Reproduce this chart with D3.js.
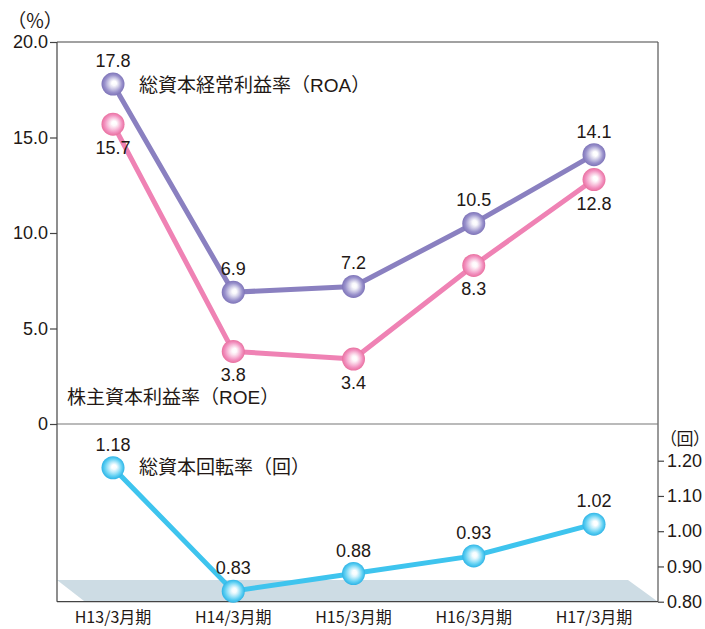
<!DOCTYPE html>
<html>
<head>
<meta charset="utf-8">
<script src="https://cdn.jsdelivr.net/npm/d3@7"></script>
<style>
  body { margin: 0; background: #fff; }
  text { font-family: "Liberation Sans", Arial, "Noto Sans CJK JP", sans-serif; fill: #231815; }
  .jp { font-family: "Noto Sans CJK JP", sans-serif; }
  .palt { font-feature-settings: "palt"; }
  .lat { font-family: "Liberation Sans", Arial, sans-serif; }
</style>
</head>
<body>
<svg id="chart" width="705" height="629"></svg>
<script>
// Data
const periods = ["H13/3月期", "H14/3月期", "H15/3月期", "H16/3月期", "H17/3月期"];
const roa = [17.8, 6.9, 7.2, 10.5, 14.1];
const roe = [15.7, 3.8, 3.4, 8.3, 12.8];
const turnover = [1.18, 0.83, 0.88, 0.93, 1.02];
const pctTicks = [0, 5, 10, 15, 20];
const turnTicks = [0.8, 0.9, 1.0, 1.1, 1.2];

const svg = d3.select("#chart");
const plotLeft = 57, plotRight = 658, plotTop = 42, zeroY = 424, plotBottom = 601.7;

const x = d3.scalePoint().domain(periods).range([113, 594]);
const yPct = d3.scaleLinear().domain([0, 20]).range([zeroY, plotTop]);
const yTurn = d3.scaleLinear().domain([0.8, 1.2]).range([plotBottom, 460.7]);

// gradients for the balls
const defs = svg.append("defs");
function ballGrad(id, mid, edge) {
    const g = defs.append("radialGradient").attr("id", id)
        .attr("cx", "50%").attr("cy", "50%").attr("r", "50%")
        .attr("fx", "56%").attr("fy", "46%");
    g.append("stop").attr("offset", "0%").attr("stop-color", "#ffffff");
    g.append("stop").attr("offset", "20%").attr("stop-color", "#ffffff").attr("stop-opacity", 0.95);
    g.append("stop").attr("offset", "75%").attr("stop-color", mid);
    g.append("stop").attr("offset", "100%").attr("stop-color", edge);
}
ballGrad("gRoa", "#9a92cc", "#7e74b8");
ballGrad("gRoe", "#f292c0", "#e9709f");
ballGrad("gTurn", "#5fd0f3", "#2fb4e6");

// gray band at the bottom
svg.append("path")
    .attr("d", `M${plotLeft},580 L628,580 L${plotRight},${plotBottom} L85,${plotBottom} Z`)
    .attr("fill", "#cddce4");

// frame
svg.append("line").attr("x1", plotLeft).attr("x2", plotRight).attr("y1", plotTop).attr("y2", plotTop)
    .attr("stroke", "#444").attr("stroke-width", 1.2);
svg.append("line").attr("x1", plotRight).attr("x2", plotRight).attr("y1", plotTop).attr("y2", plotBottom)
    .attr("stroke", "#555").attr("stroke-width", 1.2);
svg.append("line").attr("x1", plotLeft).attr("x2", plotRight).attr("y1", zeroY).attr("y2", zeroY)
    .attr("stroke", "#777").attr("stroke-width", 1.2);
svg.append("line").attr("x1", plotLeft).attr("x2", plotRight).attr("y1", plotBottom).attr("y2", plotBottom)
    .attr("stroke", "#444").attr("stroke-width", 1.2);

// left axis
const leftAxis = svg.append("g").attr("transform", `translate(${plotLeft},0)`)
    .call(d3.axisLeft(yPct).tickValues(pctTicks).tickSize(7).tickPadding(2)
        .tickFormat(d => d === 0 ? "0" : d3.format(".1f")(d)));
leftAxis.select(".domain").attr("d", `M0,${plotTop}V${plotBottom}`).attr("stroke", "#444").attr("stroke-width", 1.2);
leftAxis.selectAll(".tick line").attr("stroke", "#444").attr("stroke-width", 1.2);
leftAxis.selectAll(".tick text").attr("font-size", 18).attr("fill", "#231815")
    .style("font-family", "Liberation Sans, Arial, sans-serif");

// right axis
const rightAxis = svg.append("g").attr("transform", `translate(${plotRight},0)`)
    .call(d3.axisRight(yTurn).tickValues(turnTicks).tickSize(6).tickPadding(3)
        .tickFormat(d3.format(".2f")));
rightAxis.select(".domain").remove();
rightAxis.selectAll(".tick line").attr("stroke", "#444").attr("stroke-width", 1.2);
rightAxis.selectAll(".tick text").attr("font-size", 18).attr("fill", "#231815")
    .style("font-family", "Liberation Sans, Arial, sans-serif");

// x labels
svg.append("g").selectAll("text").data(periods).join("text")
    .attr("class", "jp")
    .attr("x", d => x(d)).attr("y", 623)
    .attr("text-anchor", "middle").attr("font-size", 16)
    .text(d => d);

// unit labels
svg.append("text").attr("class", "jp palt").attr("x", 16).attr("y", 28).attr("font-size", 19).text("（％）");
svg.append("text").attr("class", "jp palt").attr("x", 668).attr("y", 445).attr("font-size", 17).text("（回）");

// series
function drawSeries(vals, y, color, grad, labelPos) {
    const line = d3.line().x((d, i) => x(periods[i])).y(d => y(d));
    svg.append("path").datum(vals).attr("d", line)
        .attr("fill", "none").attr("stroke", color).attr("stroke-width", 5)
        .attr("stroke-linejoin", "round");
    svg.append("g").selectAll("circle").data(vals).join("circle")
        .attr("cx", (d, i) => x(periods[i])).attr("cy", d => y(d)).attr("r", 11.5)
        .attr("fill", `url(#${grad})`);
    svg.append("g").selectAll("text").data(vals).join("text")
        .attr("x", (d, i) => x(periods[i]))
        .attr("y", d => (labelPos === "below" ? y(d) + 30 : y(d) - 17))
        .attr("text-anchor", "middle").attr("font-size", 18)
        .text(d => labelPos === "turn" ? d3.format(".2f")(d) : d3.format(".1f")(d));
}
drawSeries(roa, yPct, "#8a80c0", "gRoa", "above");
drawSeries(roe, yPct, "#ef82b4", "gRoe", "below");
drawSeries(turnover, yTurn, "#3ec4ee", "gTurn", "turn");

// series names
function seriesName(xPos, yPos, name, abbr) {
    const t = svg.append("text").attr("class", "jp").attr("x", xPos).attr("y", yPos).attr("font-size", 19);
    t.append("tspan").text(name + "（");
    t.append("tspan").attr("class", "lat").text(abbr);
    t.append("tspan").text("）");
}
seriesName(139, 92, "総資本経常利益率", "ROA");
seriesName(67, 404, "株主資本利益率", "ROE");
svg.append("text").attr("class", "jp").attr("x", 139).attr("y", 474).attr("font-size", 19).text("総資本回転率（回）");
</script>
</body>
</html>
